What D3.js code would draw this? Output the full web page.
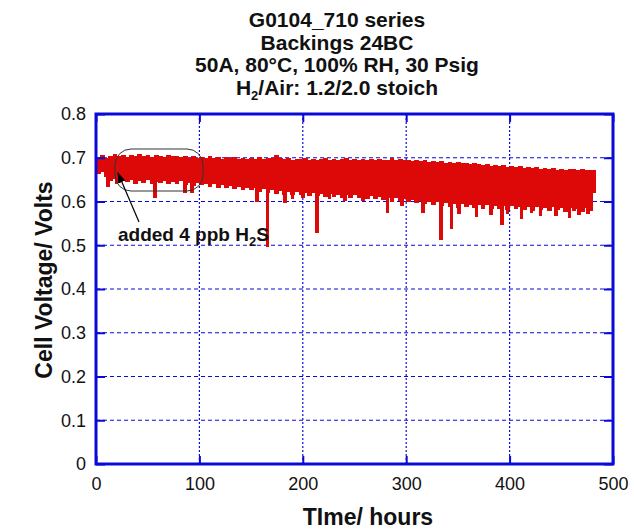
<!DOCTYPE html>
<html>
<head>
<meta charset="utf-8">
<script src="https://cdn.jsdelivr.net/npm/d3@7"></script>
<style>
  body { margin: 0; background: #fff; }
  text { font-family: "Liberation Sans", Arial, sans-serif; }
</style>
</head>
<body>
<script>
// G0104_710 cell voltage vs time, 4 h bins (upper / lower envelope of the trace)
var binStart = d3.range(0, 481, 4);
var binHigh = [
  0.700, 0.706, 0.699, 0.705, 0.708, 0.703, 0.706, 0.702, 0.707, 0.704,
  0.709, 0.703, 0.706, 0.701, 0.707, 0.704, 0.702, 0.706, 0.703, 0.705,
  0.701, 0.704, 0.700, 0.703, 0.699, 0.702, 0.700, 0.703, 0.699, 0.701,
  0.698, 0.702, 0.699, 0.701, 0.698, 0.700, 0.697, 0.700, 0.698, 0.701,
  0.697, 0.699, 0.700, 0.706, 0.699, 0.697, 0.699, 0.696, 0.698, 0.697,
  0.699, 0.696, 0.698, 0.695, 0.697, 0.699, 0.696, 0.698, 0.695, 0.697,
  0.699, 0.696, 0.698, 0.695, 0.697, 0.694, 0.697, 0.695, 0.698, 0.694,
  0.696, 0.699, 0.695, 0.697, 0.694, 0.696, 0.693, 0.695, 0.692, 0.694,
  0.691, 0.693, 0.690, 0.692, 0.689, 0.691, 0.688, 0.690, 0.687, 0.689,
  0.686, 0.688, 0.685, 0.683, 0.686, 0.682, 0.684, 0.681, 0.683, 0.680,
  0.682, 0.679, 0.681, 0.677, 0.680, 0.676, 0.678, 0.675, 0.677, 0.674,
  0.676, 0.673, 0.675, 0.672, 0.675, 0.674, 0.672, 0.674, 0.671, 0.673,
  0.672
];
var binLow = [
  0.662, 0.668, 0.655, 0.648, 0.652, 0.642, 0.648, 0.644, 0.650, 0.641,
  0.646, 0.643, 0.649, 0.640, 0.645, 0.642, 0.647, 0.639, 0.644, 0.641,
  0.646, 0.638, 0.643, 0.636, 0.642, 0.637, 0.641, 0.634, 0.639, 0.632,
  0.637, 0.630, 0.636, 0.629, 0.634, 0.627, 0.632, 0.626, 0.630, 0.622,
  0.628, 0.620, 0.626, 0.618, 0.624, 0.616, 0.622, 0.615, 0.621, 0.614,
  0.620, 0.613, 0.619, 0.612, 0.618, 0.611, 0.617, 0.610, 0.616, 0.608,
  0.614, 0.609, 0.615, 0.607, 0.613, 0.606, 0.612, 0.605, 0.611, 0.603,
  0.608, 0.600, 0.607, 0.601, 0.606, 0.598, 0.604, 0.596, 0.602, 0.594,
  0.600, 0.592, 0.598, 0.590, 0.596, 0.588, 0.594, 0.586, 0.595, 0.587,
  0.593, 0.585, 0.592, 0.584, 0.591, 0.583, 0.590, 0.582, 0.589, 0.581,
  0.590, 0.582, 0.588, 0.580, 0.587, 0.579, 0.588, 0.581, 0.586, 0.578,
  0.587, 0.580, 0.585, 0.577, 0.586, 0.579, 0.584, 0.576, 0.585, 0.578,
  0.620
];
// short voltage drops
var dropTime = [11.6, 20, 57, 86, 93, 155.6, 166, 183, 190, 200, 214, 226, 241, 258, 282, 296, 316,
  333.5, 344, 351, 368, 382, 392.5, 398, 411.7, 421, 430, 445, 458, 467, 476];
var dropVolt = [0.634, 0.640, 0.608, 0.620, 0.620, 0.600, 0.496, 0.597, 0.606, 0.608, 0.528, 0.606, 0.601, 0.602, 0.574, 0.590, 0.573,
  0.511, 0.537, 0.571, 0.565, 0.570, 0.546, 0.571, 0.560, 0.574, 0.567, 0.567, 0.563, 0.570, 0.571];

var xTicks = [0, 100, 200, 300, 400, 500];
var yTicks = [0, 0.1, 0.2, 0.3, 0.4, 0.5, 0.6, 0.7, 0.8];
var titleLines = ["G0104_710 series", "Backings 24BC", "50A, 80°C, 100% RH, 30 Psig"];

var w = 634, h = 531;
var plotL = 96, plotR = 613, plotT = 114, plotB = 464;
var blue = "#0a0ad8", red = "#dd0808";

var svg = d3.select("body").append("svg")
  .attr("width", w).attr("height", h);

var x = d3.scaleLinear().domain([0, 500]).range([plotL, plotR]);
var y = d3.scaleLinear().domain([0, 0.8]).range([plotB, plotT]);

// grid
svg.append("g").selectAll("line")
  .data(yTicks.slice(1, -1)).enter().append("line")
  .attr("x1", plotL).attr("x2", plotR)
  .attr("y1", function(d) { return y(d); }).attr("y2", function(d) { return y(d); })
  .attr("stroke", blue).attr("stroke-width", 1.2).attr("stroke-dasharray", "4,3");
svg.append("g").selectAll("line")
  .data(xTicks.slice(1, -1)).enter().append("line")
  .attr("y1", plotT).attr("y2", plotB)
  .attr("x1", function(d) { return x(d); }).attr("x2", function(d) { return x(d); })
  .attr("stroke", blue).attr("stroke-width", 1.2).attr("stroke-dasharray", "2,2");

// voltage trace
var trace = svg.append("g").attr("fill", red).attr("shape-rendering", "crispEdges");
trace.selectAll("rect.bin")
  .data(binStart).enter().append("rect")
  .attr("class", "bin")
  .attr("x", function(d) { return x(d); })
  .attr("width", function(d, i) { return x(d + (i === binStart.length - 1 ? 2.6 : 4)) - x(d) + 0.6; })
  .attr("y", function(d, i) { return y(binHigh[i]); })
  .attr("height", function(d, i) { return y(binLow[i]) - y(binHigh[i]); });
trace.selectAll("rect.drop")
  .data(dropTime).enter().append("rect")
  .attr("class", "drop")
  .attr("x", function(d) { return x(d) - 1.8; })
  .attr("width", 3.6)
  .attr("y", function(d) { return y(0.66); })
  .attr("height", function(d, i) { return y(dropVolt[i]) - y(0.66); });

// axes: ticks pointing inward
svg.append("g").attr("transform", "translate(0," + plotB + ")")
  .call(d3.axisBottom(x).tickValues(xTicks).tickSizeInner(-8).tickSizeOuter(0).tickPadding(13).tickFormat(d3.format("d")));
svg.append("g").attr("transform", "translate(0," + plotT + ")")
  .call(d3.axisTop(x).tickValues(xTicks).tickSizeInner(-8).tickSizeOuter(0).tickFormat(""));
svg.append("g").attr("transform", "translate(" + plotL + ",0)")
  .call(d3.axisLeft(y).tickValues(yTicks).tickSizeInner(-9).tickSizeOuter(0).tickPadding(10)
    .tickFormat(function(d) { return d === 0 ? "0" : d3.format(".1f")(d); }));
svg.append("g").attr("transform", "translate(" + plotR + ",0)")
  .call(d3.axisRight(y).tickValues(yTicks).tickSizeInner(-9).tickSizeOuter(0).tickFormat(""));
svg.selectAll(".domain").remove();
svg.selectAll(".tick line").attr("stroke", blue).attr("stroke-width", 2);
svg.selectAll(".tick text").attr("font-size", 18).attr("fill", "#111")
  .style("font-family", "'Liberation Sans', Arial, sans-serif");

svg.append("rect")
  .attr("x", plotL).attr("y", plotT)
  .attr("width", plotR - plotL).attr("height", plotB - plotT)
  .attr("fill", "none").attr("stroke", blue).attr("stroke-width", 3);

// annotation
svg.append("rect")
  .attr("x", 115).attr("y", 149).attr("width", 88).attr("height", 42)
  .attr("rx", 16).attr("ry", 16)
  .attr("fill", "none").attr("stroke", "#333").attr("stroke-width", 1);
svg.append("defs").append("marker")
  .attr("id", "head").attr("viewBox", "0 0 10 10")
  .attr("refX", 9).attr("refY", 5)
  .attr("markerWidth", 9).attr("markerHeight", 9).attr("orient", "auto")
  .append("path").attr("d", "M0,1.5L10,5L0,8.5Z").attr("fill", "#000");
svg.append("line")
  .attr("x1", 139).attr("y1", 222).attr("x2", 118).attr("y2", 173)
  .attr("stroke", "#000").attr("stroke-width", 1.2).attr("marker-end", "url(#head)");
var note = svg.append("text")
  .attr("x", 118).attr("y", 240.5)
  .attr("font-size", 19).attr("font-weight", "bold").attr("fill", "#111");
note.append("tspan").text("added 4 ppb H");
note.append("tspan").attr("font-size", 13).attr("dy", 5).text("2");
note.append("tspan").attr("dy", -5).text("S");

// titles
var title = svg.append("g").attr("font-size", 21).attr("font-weight", "bold")
  .attr("text-anchor", "middle").attr("fill", "#111");
titleLines.forEach(function(s, i) {
  title.append("text").attr("x", 337).attr("y", 27 + i * 22.5).text(s);
});
var t4 = title.append("text").attr("x", 337).attr("y", 94.5);
t4.append("tspan").text("H");
t4.append("tspan").attr("font-size", 13).attr("dy", 5).text("2");
t4.append("tspan").attr("dy", -5).text("/Air: 1.2/2.0 stoich");

svg.append("text")
  .attr("x", 368).attr("y", 525)
  .attr("text-anchor", "middle").attr("font-size", 23).attr("font-weight", "bold")
  .attr("fill", "#111").text("TIme/ hours");
svg.append("text")
  .attr("transform", "translate(52,280) rotate(-90)")
  .attr("text-anchor", "middle").attr("font-size", 23).attr("font-weight", "bold")
  .attr("fill", "#111").text("Cell Voltage/ Volts");
</script>
</body>
</html>
